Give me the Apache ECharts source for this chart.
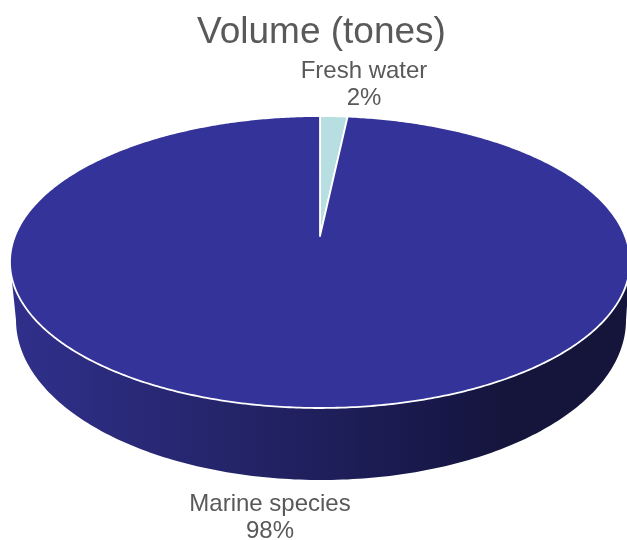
<!DOCTYPE html>
<html>
<head>
<meta charset="utf-8">
<style>html,body{margin:0;padding:0;background:#fff}#c{width:627px;height:540px}</style>
<script src="https://cdn.jsdelivr.net/npm/echarts@6/dist/echarts.min.js"></script>
</head>
<body>
<div id="c"></div>
<script>
const titleText = 'Volume (tones)';
const categories = ['Fresh water', 'Marine species'];
const values = [1.7, 98.3];
const sliceColors = ['#B7DEE0', '#333399'];
const labelAnchors = [[364, 84.5], [270, 517.5]];

// Perspective disc geometry (layout only)
const disc = { x: 320, vertexY: 236, top: 116, bottom: 408, rx: 310 };
const base = { x: 321, y: 320, rx: 305, ry: 160 };
const upReach = disc.vertexY - disc.top, downReach = disc.bottom - disc.vertexY;
const persp = (downReach - upReach) / (downReach + upReach);
const ky = upReach * (1 + persp);
const kx = disc.rx * Math.sqrt(1 - persp * persp);
function rim(theta) {
  const s = Math.sin(theta), c = Math.cos(theta), d = 1 + persp * c;
  return [disc.x + kx * s / d, disc.vertexY - ky * c / d];
}
const total = values.reduce((a, b) => a + b, 0);

function wallShape() {
  const pts = [];
  const topCy = (disc.top + disc.bottom) / 2;
  pts.push([disc.x - disc.rx, topCy]);
  for (let i = 0; i <= 180; i++) {
    const a = Math.PI - i / 180 * Math.PI;
    pts.push([base.x + base.rx * Math.cos(a), base.y + base.ry * Math.sin(a)]);
  }
  pts.push([disc.x + disc.rx, topCy]);
  return pts;
}

function renderItem(params, api) {
  const i = params.dataIndex;
  const v = api.value(0);
  let before = 0;
  for (let k = 0; k < i; k++) before += values[k];
  const a0 = before / total * 2 * Math.PI;
  const a1 = (before + v) / total * 2 * Math.PI;
  const pts = [[disc.x, disc.vertexY]];
  const n = Math.max(4, Math.ceil((a1 - a0) / 0.01));
  for (let j = 0; j <= n; j++) pts.push(rim(a0 + (a1 - a0) * j / n));
  const children = [];
  if (a0 < Math.PI && a1 > Math.PI) {
    children.push({
      type: 'polygon',
      shape: { points: wallShape() },
      style: {
        fill: new echarts.graphic.LinearGradient(0, 0, 1, 0, [
          { offset: 0, color: '#30308C' },
          { offset: 0.33, color: '#25256C' },
          { offset: 0.5, color: '#1F1F5C' },
          { offset: 0.68, color: '#18184A' },
          { offset: 0.8, color: '#15153C' },
          { offset: 1, color: '#15153C' }
        ])
      }
    });
  }
  children.push({
    type: 'polygon',
    shape: { points: pts },
    style: { fill: sliceColors[i], stroke: '#fff', lineWidth: 1.8, lineJoin: 'round' }
  });
  const a = labelAnchors[i];
  children.push({
    type: 'text', x: a[0], y: a[1],
    style: {
      text: categories[i] + '\n' + Math.round(v / total * 100) + '%',
      font: '24px "Liberation Sans", Arial, sans-serif',
      fill: '#595959', align: 'center', verticalAlign: 'middle',
      lineHeight: 27
    }
  });
  return { type: 'group', children };
}

const chart = echarts.init(document.getElementById('c'), null, { renderer: 'canvas' });
chart.setOption({
  animation: false,
  backgroundColor: '#fff',
  title: {
    text: titleText, left: 316.5, top: 9, textAlign: 'center',
    textStyle: { fontFamily: '"Liberation Sans", Arial, sans-serif', fontSize: 37, fontWeight: 'normal', color: '#595959' }
  },
  series: [{
    type: 'custom',
    coordinateSystem: 'none',
    renderItem,
    data: categories.map((name, i) => ({ name, value: [values[i]] }))
  }]
});
</script>
</body>
</html>
